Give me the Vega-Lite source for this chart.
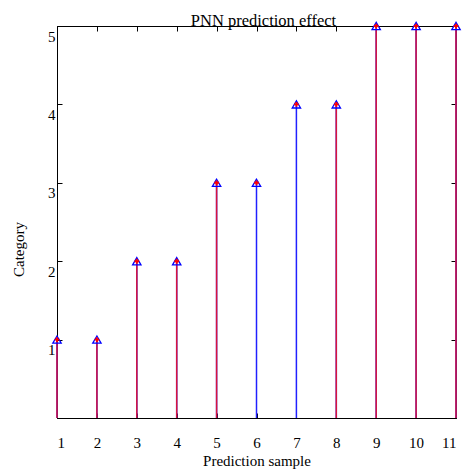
{
  "$schema": "https://vega.github.io/schema/vega-lite/v6.json",
  "width": 399,
  "height": 392,
  "autosize": {"type": "none"},
  "padding": {"left": 57, "top": 26, "right": 7, "bottom": 53},
  "background": "white",
  "title": {"text": "PNN prediction effect", "font": "Liberation Serif", "fontSize": 16.5, "fontWeight": "normal", "color": "black", "anchor": "middle", "offset": -23, "baseline": "alphabetic", "dx": 7},
  "config": {
    "view": {"stroke": "black", "strokeWidth": 1},
    "axis": {"grid": false, "domainColor": "black", "tickColor": "black", "labelColor": "black", "titleColor": "black", "labelFont": "Liberation Serif", "titleFont": "Liberation Serif", "labelFontSize": 15, "titleFontSize": 15, "titleFontWeight": "normal", "tickSize": -5, "labelPadding": 14}
  },
  "data": {"values": [
    {"sample": 1, "category": 1},
    {"sample": 2, "category": 1},
    {"sample": 3, "category": 2},
    {"sample": 4, "category": 2},
    {"sample": 5, "category": 3},
    {"sample": 6, "category": 3},
    {"sample": 7, "category": 4},
    {"sample": 8, "category": 4},
    {"sample": 9, "category": 5},
    {"sample": 10, "category": 5},
    {"sample": 11, "category": 5}
  ]},
  "layer": [
    {
      "layer": [
        {
          "mark": {"type": "rule", "color": "#2020ff", "strokeWidth": 1.5},
          "encoding": {"y2": {"datum": 0}}
        },
        {
          "transform": [{"filter": "datum.sample != 6 && datum.sample != 7"}],
          "mark": {"type": "rule", "color": "#d8143c", "strokeWidth": 1.5},
          "encoding": {"y2": {"datum": 0}}
        },
        {
          "mark": {"type": "point", "shape": "triangle-up", "filled": false, "color": "#0000ff", "size": 70, "strokeWidth": 1.3, "opacity": 1}
        }
      ],
      "encoding": {
        "x": {"field": "sample", "type": "quantitative", "scale": {"domain": [1, 11], "nice": false, "zero": false}, "axis": {"values": [1,2,3,4,5,6,7,8,9,10,11], "title": "Prediction sample", "titlePadding": 3, "labelPadding": 22}},
        "y": {"field": "category", "type": "quantitative", "scale": {"domain": [0, 5], "nice": false}, "axis": {"values": [1,2,3,4,5], "title": "Category", "titlePadding": 21, "titleY": 223, "labelPadding": 7, "labelBaseline": "top", "labelOffset": 3}}
      }
    },
    {
      "mark": {"type": "point", "shape": "cross", "filled": true, "color": "#ff0000", "size": 22, "opacity": 1},
      "encoding": {
        "x": {"field": "sample", "type": "quantitative", "scale": {"domain": [1, 11], "nice": false, "zero": false}, "axis": {"orient": "top", "values": [1,2,3,4,5,6,7,8,9,10,11], "labels": false, "title": null, "domain": false}},
        "y": {"field": "category", "type": "quantitative", "scale": {"domain": [0, 5], "nice": false}, "axis": {"orient": "right", "values": [1,2,3,4,5], "labels": false, "title": null, "domain": false}}
      }
    }
  ],
  "resolve": {"scale": {"x": "independent", "y": "independent"}}
}
